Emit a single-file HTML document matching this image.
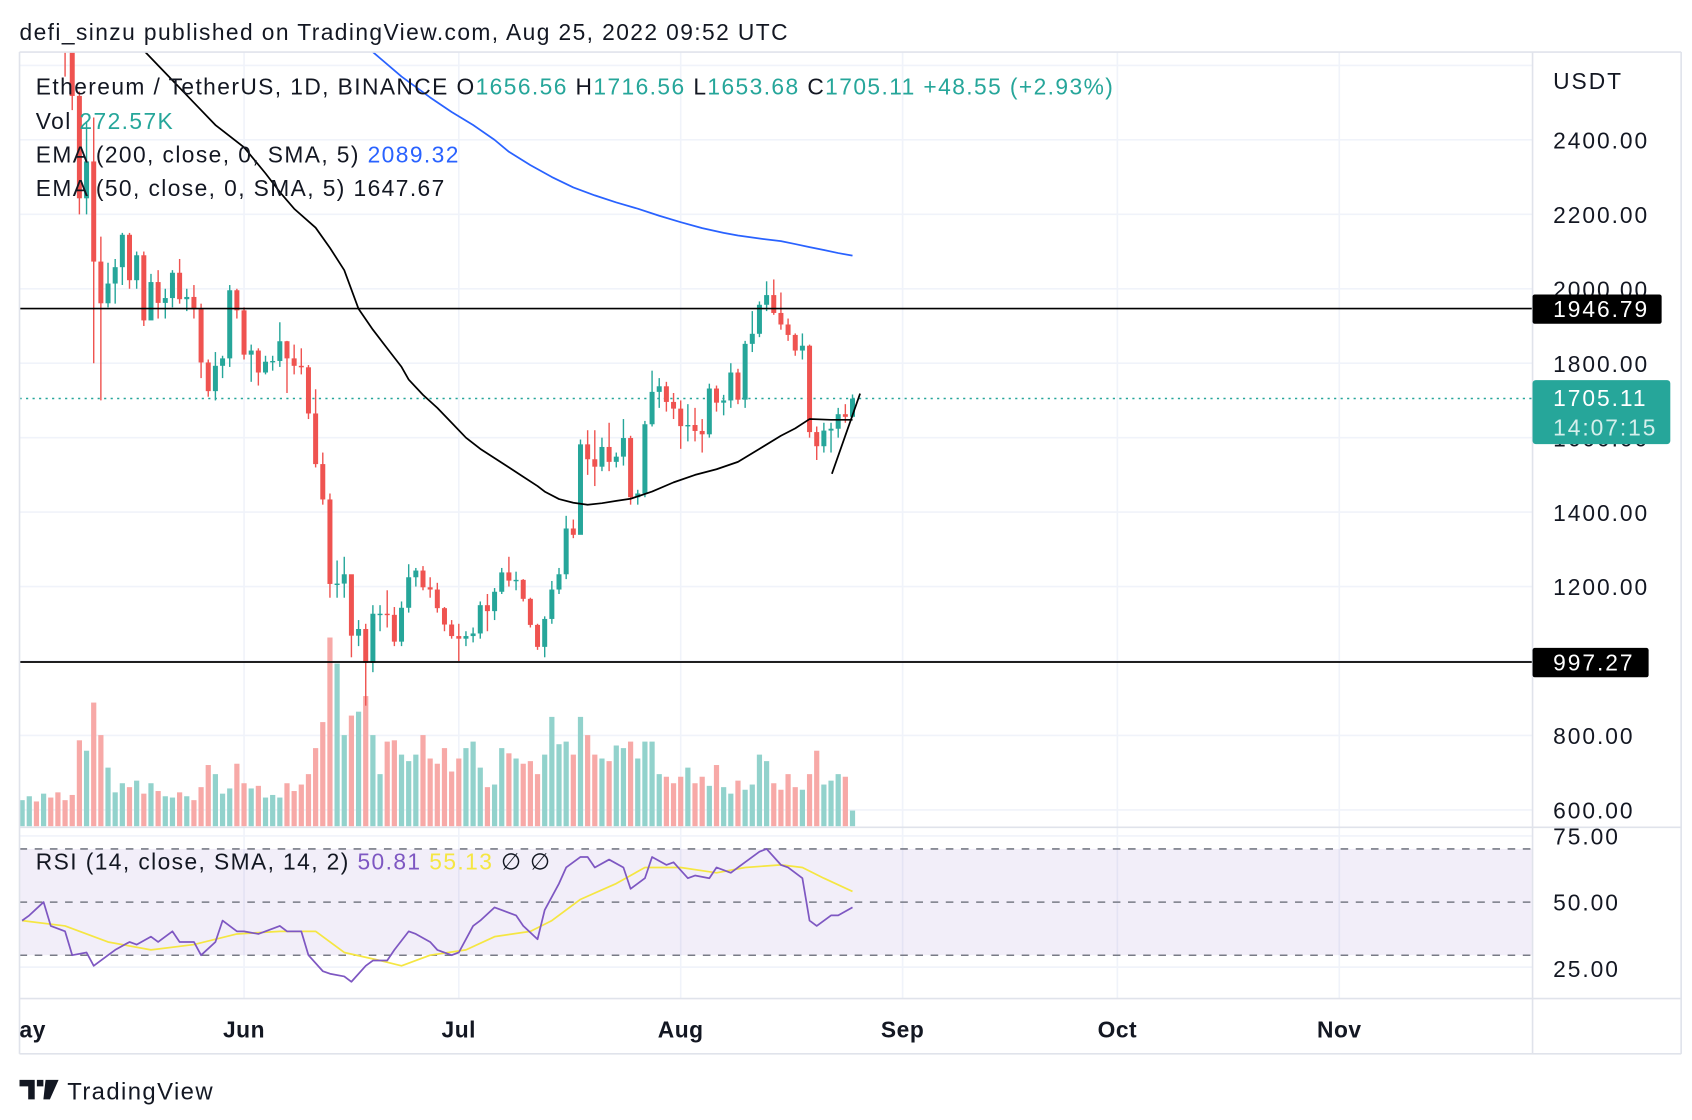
<!DOCTYPE html>
<html><head><meta charset="utf-8"><style>
html,body{margin:0;padding:0;background:#fff;width:1692px;height:1120px;overflow:hidden}
svg{display:block;font-family:"Liberation Sans",sans-serif}
</style></head><body>
<svg id="chart" width="1692" height="1120" viewBox="0 0 1560 1033" preserveAspectRatio="none" xmlns="http://www.w3.org/2000/svg">
<text x="18" y="37" font-size="21" letter-spacing="1.3" fill="#131722">defi_sinzu published on TradingView.com, Aug 25, 2022 09:52 UTC</text>
<g id="grid"></g>
<g id="vol"></g>
<g id="candles"></g>
<g id="lines"></g>
<g id="rsi"></g>
<g id="axes"></g>
<g font-size="21" letter-spacing="1.3">
<text x="33" y="87" fill="#131722">Ethereum / TetherUS, 1D, BINANCE  O<tspan fill="#26a69a">1656.56</tspan>  H<tspan fill="#26a69a">1716.56</tspan>  L<tspan fill="#26a69a">1653.68</tspan>  C<tspan fill="#26a69a">1705.11</tspan>  <tspan fill="#26a69a">+48.55 (+2.93%)</tspan></text>
<text x="33" y="119" fill="#131722">Vol  <tspan fill="#26a69a">272.57K</tspan></text>
<text x="33" y="150" fill="#131722">EMA (200, close, 0, SMA, 5)  <tspan fill="#2962ff">2089.32</tspan></text>
<text x="33" y="181" fill="#131722">EMA (50, close, 0, SMA, 5)  1647.67</text>
<text x="33" y="802" fill="#131722">RSI (14, close, SMA, 14, 2)  <tspan fill="#7e57c2">50.81</tspan>  <tspan fill="#f5e642">55.13</tspan>  ∅  ∅</text>
</g>
<g>
<path d="M18 996h14v18h-6v-12h-8z M34 996h6v6h-6z M42 996h12l-8 18h-6z" fill="#131722"/>
<text x="62" y="1014" font-size="22" letter-spacing="1.3" fill="#131722">TradingView</text>
</g>
</svg>
<script>
const closes=[2830,2857,2782,2940,2749,2695,2636,2518,2243,2342,2073,1961,2014,2058,2145,2023,2090,1915,2018,1962,1975,2043,1972,1978,1945,1802,1725,1793,1813,1996,1942,
1823,1834,1775,1804,1806,1859,1813,1793,1789,1665,1529,1434,1207,1208,1233,1068,1086,995,1127,1127,1124,1052,1143,1225,1243,1198,1192,1142,1098,1067,
1060,1067,1074,1150,1134,1186,1238,1216,1218,1167,1097,1038,1113,1192,1233,1356,1339,1582,1542,1522,1575,1535,1549,1599,1440,1450,1636,1723,1738,1696,1678,
1631,1634,1618,1609,1732,1694,1700,1775,1702,1852,1879,1957,1983,1935,1904,1876,1834,1847,1615,1577,1619,1624,1663,1656,1705];
const highs=[2860,2880,2870,2955,2955,2760,2700,2650,2530,2450,2460,2140,2070,2080,2150,2150,2100,2100,2040,2050,2000,2050,2080,2000,2010,1960,1810,1830,1820,2010,2000,
1950,1850,1840,1820,1820,1910,1860,1850,1840,1795,1730,1560,1450,1270,1280,1230,1110,1100,1150,1150,1190,1145,1160,1260,1250,1255,1225,1210,1145,1110,
1100,1080,1090,1160,1180,1196,1250,1280,1240,1220,1170,1100,1120,1215,1250,1390,1380,1595,1620,1620,1600,1640,1560,1650,1605,1460,1645,1780,1760,1750,1720,
1700,1690,1680,1650,1745,1740,1715,1800,1785,1860,1940,1966,2020,2025,1990,1920,1880,1880,1850,1630,1640,1640,1680,1690,1716];
const lows=[2700,2740,2750,2770,2710,2650,2570,2480,2200,2200,1800,1700,1950,1960,2010,2000,2000,1900,1930,1920,1920,1950,1960,1940,1920,1760,1710,1700,1760,1790,1920,
1810,1750,1740,1770,1780,1790,1720,1770,1770,1650,1520,1420,1170,1170,1170,1010,1040,880,970,1080,1090,1040,1040,1130,1200,1190,1170,1130,1080,1060,
1000,1040,1050,1060,1080,1110,1180,1200,1190,1160,1090,1030,1010,1100,1180,1220,1330,1340,1500,1470,1510,1510,1520,1525,1420,1420,1440,1630,1680,1670,1650,
1570,1590,1590,1560,1600,1670,1660,1680,1690,1680,1830,1870,1940,1930,1890,1860,1820,1810,1600,1540,1560,1560,1600,1640,1654];
const firstOpen=2730;
const volumes=[200,230,190,250,220,260,200,240,660,580,950,700,450,260,330,300,350,250,330,270,230,220,260,230,200,300,470,400,250,290,480,
330,290,310,220,240,220,330,270,320,400,600,800,1450,1250,700,850,880,1000,700,400,650,660,550,500,550,700,520,480,600,420,
520,600,650,450,300,320,600,560,520,480,500,400,550,840,630,650,550,840,700,550,520,500,620,600,650,520,650,650,400,380,
330,380,450,330,380,310,470,300,250,350,280,320,550,500,330,280,400,300,280,400,580,320,350,400,380,120];
const ema200Days=[40,45,49,53,57,60,63,66,68,71,74,77,80,83,86,89,92,95,98,100,103,106,108,110,112,114,116];
const ema200Vals=[2800,2700,2636,2570,2514,2475,2440,2400,2368,2332,2300,2272,2251,2232,2215,2196,2179,2163,2150,2143,2135,2128,2120,2112,2104,2096,2089];
const ema50Days=[17,20,24,27,31,34,36,38,41,43,45,47,49,51,53,54,56,58,60,62,64,66,68,70,72,73,75,77,79,81,83,85,88,91,94,97,100,103,106,108,110,113,116];
const ema50Vals=[2640,2580,2500,2440,2380,2310,2260,2215,2164,2110,2050,1946,1890,1840,1790,1756,1715,1680,1640,1600,1570,1545,1520,1495,1470,1455,1435,1425,1420,1424,1430,1436,1455,1480,1500,1515,1535,1570,1605,1625,1650,1648,1648];
const rsiDays=[0,1,3,4,6,7,9,10,12,13,15,16,18,19,21,22,24,25,27,28,30,31,33,34,36,37,39,40,42,43,45,46,48,49,51,52,54,55,57,58,60,61,63,64,66,67,69,70,72,73,75,76,78,79,80,82,84,85,87,88,90,91,93,94,96,97,99,100,102,103,104,106,107,109,110,111,113,114,116];
const rsiVals=[43,45,50,41,39,30,31,26,30,32,35,34,37,35,39,35,35,30,35,43,39,39,38,39,41,39,39,30,24,23,22,20,26,28,28,32,39,38,35,32,30,31,41,43,48,47,45,41,36,47,57,63,67,67,63,66,63,55,59,67,64,65,59,60,59,63,61,63,67,69,70,64,63,59,43,41,45,45,48,51].slice(0,79);
const smaDays=[0,6,12,18,24,30,36,41,45,50,53,57,62,66,71,74,78,83,87,92,97,101,106,109,112,116];
const smaVals=[43,41,35,32,34,38,39,39,31,28,26,30,32,37,39,43,51,57,63,63,61,63,64,63,59,54];
const priceTicks=[2400,2200,2000,1800,1600,1400,1200,1000,800,600];
const rsiTicks=[75,50,25];
const rsiBands=[70,50,30];
const monthLabels=["ay","Jun","Jul","Aug","Sep","Oct","Nov"];
const monthDays=[0,31,61,92,123,153,184];
const hLevels=[1946.79,997.27];
const lastPrice=1705.11;

const NS="http://www.w3.org/2000/svg";
const X=i=>20.4+i*6.6;
const Y=p=>129+(2400-p)*0.34333;
const RY=v=>832-(v-50)*2.45;
const VY=v=>762-v*0.12;
function mk(parent,tag,attrs){const e=document.createElementNS(NS,tag);for(const k in attrs)e.setAttribute(k,attrs[k]);parent.appendChild(e);return e;}
const grid=document.getElementById('grid'),vol=document.getElementById('vol'),cg=document.getElementById('candles'),lg=document.getElementById('lines'),rg=document.getElementById('rsi'),ax=document.getElementById('axes');

[...priceTicks,2600].forEach(p=>{const l=mk(grid,'line',{x1:18,x2:1413,y1:Y(p),y2:Y(p),stroke:'#f0f3fa','stroke-width':1.5});

});
monthDays.slice(1).forEach(d=>{const l=mk(grid,'line',{x1:X(d),x2:X(d),y1:48,y2:921,stroke:'#f0f3fa','stroke-width':1.5});

});
[771,892].forEach(y=>{mk(grid,'line',{x1:18,x2:1413,y1:y,y2:y,stroke:'#f0f3fa','stroke-width':1.5});});

const defs=mk(document.getElementById('chart'),'defs',{});
const cp=mk(defs,'clipPath',{id:'mainclip'});mk(cp,'rect',{x:18,y:48,width:1395,height:715});
cg.setAttribute('clip-path','url(#mainclip)');lg.setAttribute('clip-path','url(#mainclip)');

closes.forEach((c,i)=>{
  const o=i===0?firstOpen:closes[i-1];
  const up=c>=o;
  const b=mk(vol,'rect',{x:X(i)-2.4,y:VY(volumes[i]),width:4.8,height:762-VY(volumes[i]),fill:up?'#92d2cc':'#f7a9a7'});
  
  
  const col=up?'#26a69a':'#ef5350';
  const w=mk(cg,'line',{x1:X(i),x2:X(i),y1:Y(highs[i]),y2:Y(lows[i]),stroke:col,'stroke-width':1.3});
  
  
  const top=Y(Math.max(o,c)),bh=Math.max(1.3,Math.abs(Y(o)-Y(c)));
  const r=mk(cg,'rect',{x:X(i)-2.3,y:top,width:4.6,height:bh,fill:col});
  
  
});

function poly(parent,days,vals,yf,color,w,name){
  const pts=days.map((d,k)=>X(d).toFixed(1)+','+yf(vals[k]).toFixed(1)).join(' ');
  const p=mk(parent,'polyline',{points:pts,fill:'none',stroke:color,'stroke-width':w,'stroke-linejoin':'round'});
  
  
}
poly(lg,ema200Days,ema200Vals,Y,'#2962ff',1.6,'ema-200-line');
poly(lg,ema50Days,ema50Vals,Y,'#000',1.6,'ema-50-line');
const tl=mk(lg,'line',{x1:767,y1:437,x2:793,y2:363,stroke:'#000','stroke-width':1.6});



hLevels.forEach(p=>{const l=mk(lg,'line',{x1:18,x2:1413,y1:Y(p),y2:Y(p),stroke:'#000','stroke-width':1.6});

});
const cl=mk(grid,'line',{x1:18,x2:1413,y1:Y(lastPrice),y2:Y(lastPrice),stroke:'#26a69a','stroke-width':1.4,'stroke-dasharray':'2 4'});



const band=mk(rg,'rect',{x:18,y:RY(rsiBands[0]),width:1395,height:RY(rsiBands[2])-RY(rsiBands[0]),fill:'#7e57c2','fill-opacity':0.1});


rsiBands.forEach(v=>{const l=mk(rg,'line',{x1:18,x2:1413,y1:RY(v),y2:RY(v),stroke:'#787b86','stroke-width':1.4,'stroke-dasharray':'7 7'});

});
poly(rg,smaDays,smaVals,RY,'#f5e642',1.6,'rsi-sma-line');
poly(rg,rsiDays,rsiVals,RY,'#7e57c2',1.6,'rsi-line');

[[18,763,1550,763],[18,921,1550,921],[1413,48,1413,972],[18,972,1550,972],[18,48,1550,48],[18,48,18,972],[1550,48,1550,972]].forEach(a=>{
  mk(ax,'line',{x1:a[0],y1:a[1],x2:a[2],y2:a[3],stroke:'#e0e3eb','stroke-width':1.5});});

function txt(x,y,s,attrs,name){const t=mk(ax,'text',Object.assign({x:x,y:y,'font-size':21,fill:'#131722','letter-spacing':1.8},attrs||{}));t.textContent=s;

return t;}
txt(1432,82,'USDT',{},'price-unit');
priceTicks.forEach(p=>txt(1432,Y(p)+8,p.toFixed(2),{},'price-tick'));
rsiTicks.forEach(v=>txt(1432,RY(v)+8,v.toFixed(2),{},'rsi-tick'));
monthLabels.forEach((m,k)=>txt(k===0?18:X(monthDays[k]),957,m,{'text-anchor':k===0?'start':'middle','font-weight':'bold','letter-spacing':0.5},'month-label'));

hLevels.forEach(p=>{const w=p>1000?119:107;
  const r=mk(ax,'rect',{x:1413,y:Y(p)-13,width:w,height:27,rx:2,fill:'#000'});
  
  
  txt(1432,Y(p)+8,p.toFixed(2),{fill:'#fff'},'level-price-text');});
const lt=mk(ax,'rect',{x:1413,y:Y(lastPrice)-17,width:127,height:59,rx:3,fill:'#26a69a'});


txt(1432,Y(lastPrice)+7,lastPrice.toFixed(2),{fill:'#fff'},'last-price-text');
txt(1432,Y(lastPrice)+34,'14:07:15',{fill:'#d4efec'},'countdown-text');
</script>
</body></html>
